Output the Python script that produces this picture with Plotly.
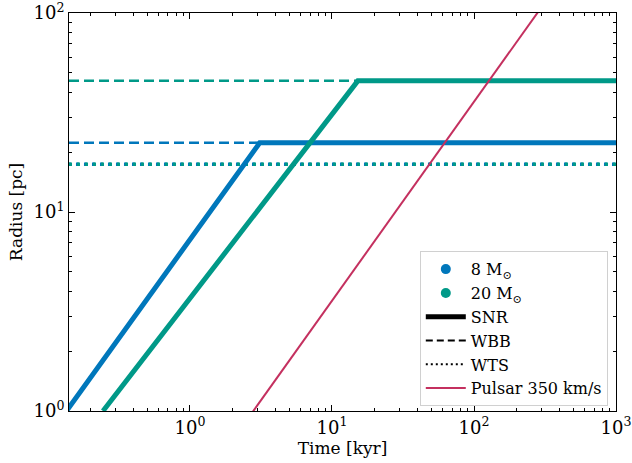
import math
import plotly.graph_objects as go

# Data
t_range = [0.1406, 1000]
r_range = [1, 100]

snr8_t = [0.135, 3.1, 1000]
snr8_r = [1.0, 22.3, 22.3]
wbb8_t = [0.1406, 3.1]
wbb8_r = [22.3, 22.3]
wts8_t = [0.1383, 1000]
wts8_r = [17.4, 17.4]

snr20_t = [0.244, 15.2, 1000]
snr20_r = [1.0, 45.6, 45.6]
wbb20_t = [0.1406, 15.2]
wbb20_r = [45.6, 45.6]
wts20_t = [0.1406, 1000]
wts20_r = [17.4, 17.4]

pulsar_t = [1.0, 1000]
pulsar_r = [0.358, 358]

major_vals = [1, 10, 100, 1000]
major_text = ["10<sup>0</sup>", "10<sup>1</sup>", "10<sup>2</sup>", "10<sup>3</sup>"]
minor_vals = [m * 10 ** e for e in range(-1, 3) for m in range(2, 10)]

BLUE = "#0077BB"
TEAL = "#009988"
PULSAR = "#C4305F"
FONT = "DejaVu Serif"

fig = go.Figure()

fig.add_trace(go.Scatter(x=wbb8_t, y=wbb8_r, mode="lines", line=dict(color=BLUE, width=2.5, dash="10px,5px"), showlegend=False))
fig.add_trace(go.Scatter(x=wbb20_t, y=wbb20_r, mode="lines", line=dict(color=TEAL, width=2.5, dash="10px,5px"), showlegend=False))
fig.add_trace(go.Scatter(x=wts8_t, y=wts8_r, mode="lines", line=dict(color=BLUE, width=3.5, dash="3px,5px"), showlegend=False))
fig.add_trace(go.Scatter(x=wts20_t, y=wts20_r, mode="lines", line=dict(color=TEAL, width=3.5, dash="3px,5px"), showlegend=False))
fig.add_trace(go.Scatter(x=snr8_t, y=snr8_r, mode="lines", line=dict(color=BLUE, width=5), showlegend=False))
fig.add_trace(go.Scatter(x=snr20_t, y=snr20_r, mode="lines", line=dict(color=TEAL, width=5), showlegend=False))
fig.add_trace(go.Scatter(x=pulsar_t, y=pulsar_r, mode="lines", line=dict(color=PULSAR, width=2), showlegend=False))

# Legend entries
fig.add_trace(go.Scatter(x=[None], y=[None], mode="markers", marker=dict(color=BLUE, size=10), name="8 M<sub>⊙</sub>"))
fig.add_trace(go.Scatter(x=[None], y=[None], mode="markers", marker=dict(color=TEAL, size=10), name="20 M<sub>⊙</sub>"))
fig.add_trace(go.Scatter(x=[None], y=[None], mode="lines", line=dict(color="black", width=5), name="SNR"))
fig.add_trace(go.Scatter(x=[None], y=[None], mode="lines", line=dict(color="black", width=2, dash="7px,4px"), name="WBB"))
fig.add_trace(go.Scatter(x=[None], y=[None], mode="lines", line=dict(color="black", width=2, dash="2px,3px"), name="WTS"))
fig.add_trace(go.Scatter(x=[None], y=[None], mode="lines", line=dict(color=PULSAR, width=2), name="Pulsar 350 km/s"))

axis_common = dict(
    type="log",
    automargin=False,
    showgrid=False,
    zeroline=False,
    showline=True,
    linecolor="black",
    linewidth=1,
    mirror="ticks",
    ticks="inside",
    ticklen=6,
    tickwidth=1,
    tickcolor="black",
    tickmode="array",
    tickvals=major_vals,
    ticktext=major_text,
    ticklabeloverflow="allow",
    tickfont=dict(family=FONT, size=18, color="black"),
    minor=dict(ticks="inside", ticklen=3, tickwidth=1, tickcolor="black",
               tickmode="array", tickvals=minor_vals, showgrid=False),
)

fig.update_xaxes(**axis_common)
fig.update_yaxes(**axis_common)
fig.update_xaxes(range=[math.log10(t_range[0]), math.log10(t_range[1])],
                 title=dict(text="Time [kyr]", font=dict(family=FONT, size=17, color="black"), standoff=4))
fig.update_yaxes(range=[math.log10(r_range[0]), math.log10(r_range[1])],
                 title=dict(text="Radius [pc]", font=dict(family=FONT, size=17, color="black"), standoff=6))

fig.update_layout(
    width=632,
    height=463,
    margin=dict(l=69, r=16, t=13, b=52),
    plot_bgcolor="white",
    paper_bgcolor="white",
    font=dict(family=FONT, color="black"),
    legend=dict(
        x=0.985, y=0.012, xanchor="right", yanchor="bottom",
        bgcolor="rgba(255,255,255,0.85)",
        bordercolor="#d0d0d0", borderwidth=1,
        font=dict(family=FONT, size=16, color="black"),
        tracegroupgap=0,
        itemwidth=40,
    ),
)

fig.write_html("out.html")
